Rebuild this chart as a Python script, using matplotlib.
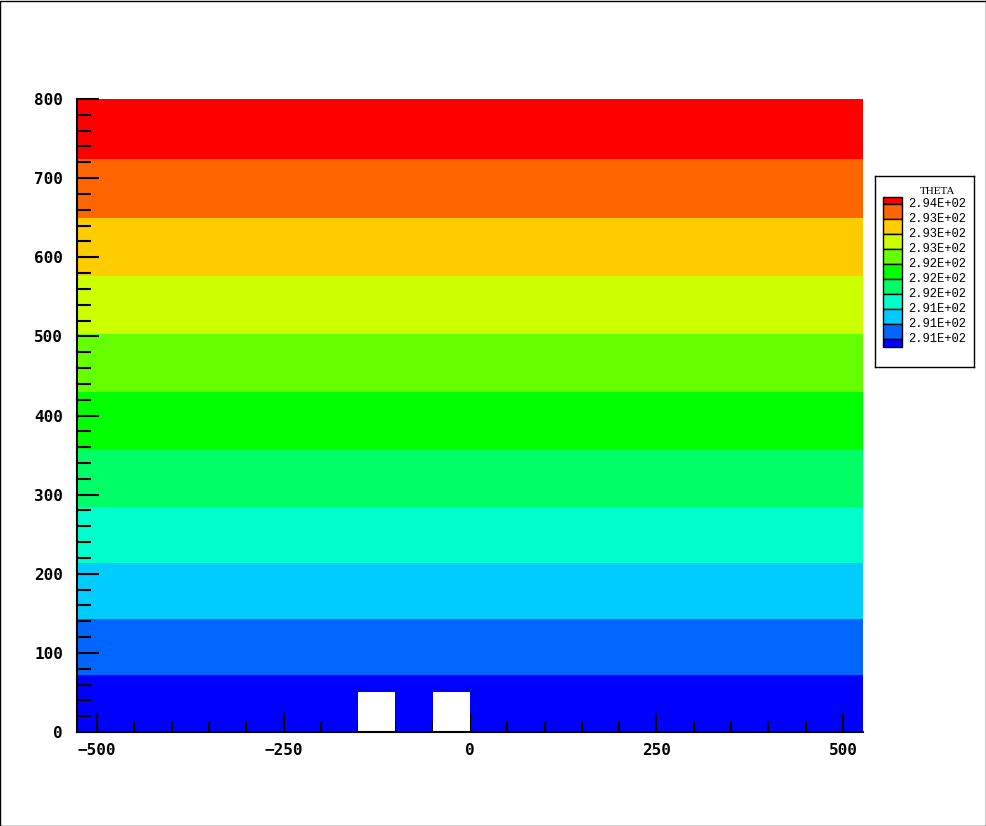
import matplotlib
matplotlib.use('Agg')
import matplotlib.pyplot as plt
import numpy as np
from matplotlib.colors import ListedColormap
from matplotlib.patches import Rectangle

# THETA bands, bottom to top (edges in metres)
band_edges = [0, 72, 143, 214, 284, 358, 430, 503, 576, 650, 724, 800]
band_colors = ['#0000FF', '#0066FF', '#00CCFF', '#00FFCC', '#00FF66', '#00FF00',
               '#66FF00', '#CCFF00', '#FFCC00', '#FF6600', '#FF0000']
level_labels = ['2.91E+02', '2.91E+02', '2.91E+02', '2.92E+02', '2.92E+02',
                '2.92E+02', '2.93E+02', '2.93E+02', '2.93E+02', '2.94E+02']
x_range = [-527, 527]

# obstacles
bld_left = [-150, -50]
bld_width = [50, 50]
bld_height = [50, 50]

W, H = 987, 826
fig = plt.figure(figsize=(W / 100, H / 100), dpi=100)
fig.patch.set_facecolor('white')

ax = fig.add_axes([77 / W, 1 - 732 / H, (863 - 77) / W, (732 - 99) / H])
vals = np.arange(len(band_colors)).reshape(-1, 1)
cmap = ListedColormap(band_colors)
ax.pcolormesh(x_range, band_edges, vals, cmap=cmap, vmin=-0.5,
              vmax=len(band_colors) - 0.5, shading='flat')
ax.bar(bld_left, bld_height, width=bld_width, align='edge', color='white',
       edgecolor='none', zorder=2)

ax.set_xlim(x_range)
ax.set_ylim(0, 800)
ax.set_xticks([-500, -250, 0, 250, 500])
ax.set_xticks(np.arange(-500, 501, 50), minor=True)
ax.set_yticks(np.arange(0, 801, 100))
ax.set_yticks(np.arange(0, 801, 20), minor=True)
ax.tick_params(which='both', direction='in', width=1.5, color='black', zorder=5)
ax.tick_params(axis='y', which='major', length=16, pad=10)
ax.tick_params(axis='y', which='minor', length=10)
ax.tick_params(axis='x', which='major', length=14, pad=8)
ax.tick_params(axis='x', which='minor', length=8)
for lab in ax.get_xticklabels() + ax.get_yticklabels():
    lab.set_fontfamily('DejaVu Sans Mono')
    lab.set_fontweight('bold')
    lab.set_fontsize(11.5)
for s in ['top', 'right']:
    ax.spines[s].set_visible(False)
for s in ['left', 'bottom']:
    ax.spines[s].set_linewidth(1.5)
    ax.spines[s].set_zorder(6)

# legend box
lax = fig.add_axes([875 / W, 1 - 367 / H, (974 - 875) / W, (367 - 176) / H])
lax.set_xlim(0, 99)
lax.set_ylim(191, 0)
lax.set_xticks([])
lax.set_yticks([])
for s in lax.spines.values():
    s.set_linewidth(1)
lax.text(63, 16, 'THETA', ha='center', va='center', fontsize=8,
         family='Liberation Serif')
n = len(band_colors)
step = 15
top = 28
bounds = [top + step * i for i in range(len(level_labels))]
edges = [bounds[0] - step / 2] + bounds + [bounds[-1] + step / 2]
cols_top = band_colors[::-1]
for i in range(n):
    lax.bar(8, edges[i + 1] - edges[i], bottom=edges[i], width=19, align='edge',
            color=cols_top[i], edgecolor='black', linewidth=1)
for b, lab in zip(bounds, level_labels[::-1]):
    lax.text(33, b, lab, ha='left', va='center', fontsize=8.7,
             family='Liberation Mono')

fig.patches.append(Rectangle((0.0005, 0.0005), 0.998, 0.998, transform=fig.transFigure,
                             fill=False, edgecolor='black', linewidth=1))

fig.savefig('out.png', dpi=100)
